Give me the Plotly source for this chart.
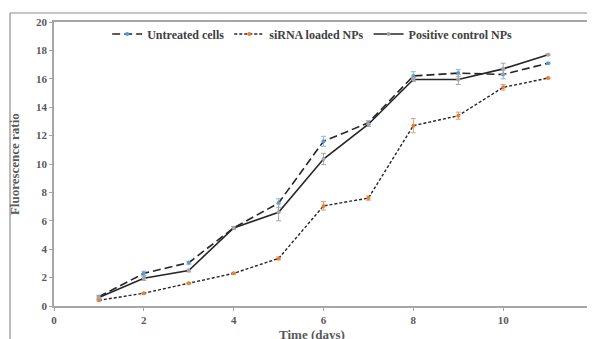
import plotly.graph_objects as go

days = [1, 2, 3, 4, 5, 6, 7, 8, 9, 10, 11]
untreated = [0.65, 2.3, 3.05, 5.5, 7.25, 11.6, 12.9, 16.2, 16.4, 16.3, 17.1]
untreated_err = [0.1, 0.15, 0.1, 0.1, 0.3, 0.35, 0.15, 0.3, 0.25, 0.3, 0.05]
sirna = [0.4, 0.9, 1.6, 2.3, 3.35, 7.05, 7.6, 12.7, 13.4, 15.4, 16.05]
sirna_err = [0.05, 0.05, 0.05, 0.05, 0.1, 0.3, 0.15, 0.5, 0.25, 0.2, 0.05]
positive = [0.6, 1.95, 2.5, 5.5, 6.6, 10.35, 12.8, 15.95, 15.95, 16.7, 17.7]
positive_err = [0.1, 0.15, 0.1, 0.1, 0.6, 0.4, 0.15, 0.15, 0.35, 0.4, 0.05]

font_family = "Liberation Serif"
tick_color = "#595959"

fig = go.Figure()
fig.add_trace(go.Scatter(
    x=days, y=untreated, name="Untreated cells", mode="lines+markers",
    line=dict(color="#262626", width=1.6, dash="8px,4px"),
    marker=dict(color="#5B9BD5", size=4),
    error_y=dict(type="data", array=untreated_err, color="#8fb3d6", thickness=1, width=2.5),
))
fig.add_trace(go.Scatter(
    x=days, y=sirna, name="siRNA loaded NPs", mode="lines+markers",
    line=dict(color="#262626", width=1.4, dash="3px,2px"),
    marker=dict(color="#ED7D31", size=4),
    error_y=dict(type="data", array=sirna_err, color="#d9a27a", thickness=1, width=2.5),
))
fig.add_trace(go.Scatter(
    x=days, y=positive, name="Positive control NPs", mode="lines+markers",
    line=dict(color="#262626", width=1.6),
    marker=dict(color="#A5A5A5", size=4),
    error_y=dict(type="data", array=positive_err, color="#a5a5a5", thickness=1, width=2.5),
))

axis_common = dict(
    showline=True, linecolor="#a6a6a6", linewidth=1.5, mirror=True,
    ticks="outside", tickcolor="#a6a6a6", ticklen=3, tickwidth=1,
    showgrid=False, zeroline=False, automargin=False,
    tickfont=dict(family=font_family, size=11, color=tick_color, weight="bold"),
)
fig.update_xaxes(range=[0, 12], dtick=2, **axis_common)
fig.update_yaxes(range=[0, 20], dtick=2, **axis_common)

title_font = dict(family=font_family, size=13, color=tick_color, weight="bold")

fig.update_layout(
    width=595, height=339,
    margin=dict(l=46, r=10, t=14, b=41, autoexpand=False),
    plot_bgcolor="white", paper_bgcolor="white",
    showlegend=True,
    legend=dict(orientation="h", x=0.479, y=0.958, xanchor="center", yanchor="middle",
                font=dict(family=font_family, size=12, color="#404040", weight="bold"),
                itemwidth=30, tracegroupgap=0, bgcolor="rgba(0,0,0,0)"),
    annotations=[
        dict(text="Time (days)", xref="paper", yref="paper", x=0.479, y=-0.099,
             xanchor="center", yanchor="middle", showarrow=False, font=title_font),
        dict(text="Fluorescence ratio", xref="paper", yref="paper", x=-0.074, y=0.5,
             xanchor="center", yanchor="middle", textangle=-90, showarrow=False, font=title_font),
    ],
    shapes=[
        dict(type="line", xref="paper", yref="paper", x0=-0.0816, x1=1.05, y0=1.0317, y1=1.0317,
             line=dict(color="#8c8c8c", width=1.2)),
        dict(type="line", xref="paper", yref="paper", x0=-0.0816, x1=-0.0816, y0=1.0317, y1=-0.2,
             line=dict(color="#8c8c8c", width=1.2)),
    ],
)

fig.write_html("out.html")
